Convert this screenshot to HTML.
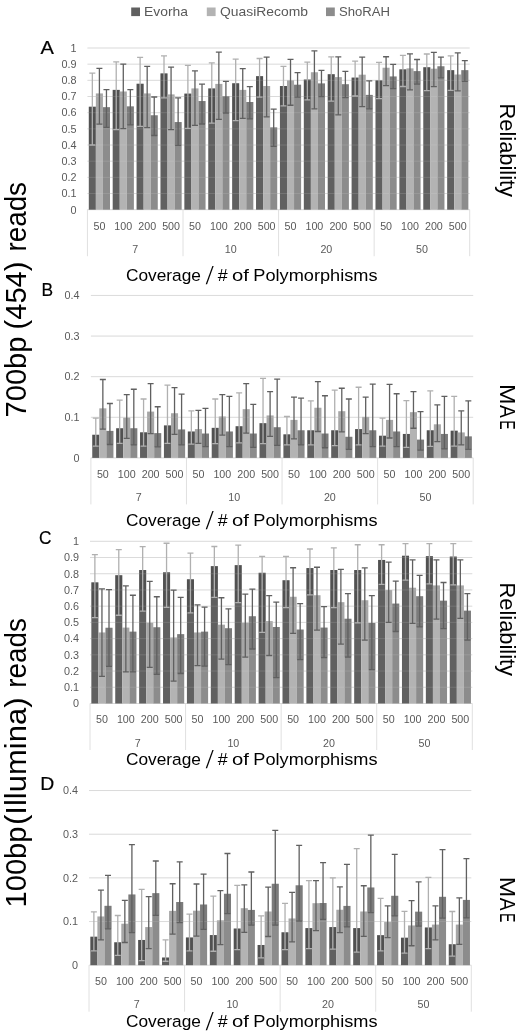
<!DOCTYPE html>
<html><head><meta charset="utf-8"><title>Figure</title>
<style>
html,body{margin:0;padding:0;background:#fff;}
svg{display:block;font-family:"Liberation Sans", sans-serif;}
</style></head><body>
<svg width="520" height="1033" viewBox="0 0 520 1033">
<rect width="520" height="1033" fill="#fff"/>
<line x1="87.45" x2="469.7" y1="209.7" y2="209.7" stroke="#d9d9d9" stroke-width="1"/>
<text x="76.4" y="213.5" text-anchor="end" font-size="10.8" fill="#595959">0</text>
<line x1="87.45" x2="469.7" y1="193.53" y2="193.53" stroke="#d9d9d9" stroke-width="1"/>
<text x="76.4" y="197.33" text-anchor="end" font-size="10.8" fill="#595959">0.1</text>
<line x1="87.45" x2="469.7" y1="177.36" y2="177.36" stroke="#d9d9d9" stroke-width="1"/>
<text x="76.4" y="181.16" text-anchor="end" font-size="10.8" fill="#595959">0.2</text>
<line x1="87.45" x2="469.7" y1="161.19" y2="161.19" stroke="#d9d9d9" stroke-width="1"/>
<text x="76.4" y="164.99" text-anchor="end" font-size="10.8" fill="#595959">0.3</text>
<line x1="87.45" x2="469.7" y1="145.02" y2="145.02" stroke="#d9d9d9" stroke-width="1"/>
<text x="76.4" y="148.82" text-anchor="end" font-size="10.8" fill="#595959">0.4</text>
<line x1="87.45" x2="469.7" y1="128.85" y2="128.85" stroke="#d9d9d9" stroke-width="1"/>
<text x="76.4" y="132.65" text-anchor="end" font-size="10.8" fill="#595959">0.5</text>
<line x1="87.45" x2="469.7" y1="112.68" y2="112.68" stroke="#d9d9d9" stroke-width="1"/>
<text x="76.4" y="116.48" text-anchor="end" font-size="10.8" fill="#595959">0.6</text>
<line x1="87.45" x2="469.7" y1="96.51" y2="96.51" stroke="#d9d9d9" stroke-width="1"/>
<text x="76.4" y="100.31" text-anchor="end" font-size="10.8" fill="#595959">0.7</text>
<line x1="87.45" x2="469.7" y1="80.34" y2="80.34" stroke="#d9d9d9" stroke-width="1"/>
<text x="76.4" y="84.14" text-anchor="end" font-size="10.8" fill="#595959">0.8</text>
<line x1="87.45" x2="469.7" y1="64.17" y2="64.17" stroke="#d9d9d9" stroke-width="1"/>
<text x="76.4" y="67.97" text-anchor="end" font-size="10.8" fill="#595959">0.9</text>
<line x1="87.45" x2="469.7" y1="48" y2="48" stroke="#d9d9d9" stroke-width="1"/>
<text x="76.4" y="51.8" text-anchor="end" font-size="10.8" fill="#595959">1</text>
<rect x="88.8" y="106.7" width="7.06" height="103" fill="#606060"/>
<rect x="88.8" y="106.7" width="7.06" height="38.32" fill="#000" opacity="0.15"/>
<rect x="95.86" y="93.44" width="7.06" height="116.26" fill="#b3b3b3"/>
<rect x="95.86" y="93.44" width="7.06" height="30.72" fill="#000" opacity="0.07"/>
<rect x="102.93" y="107.18" width="7.06" height="102.52" fill="#8c8c8c"/>
<rect x="102.93" y="107.18" width="7.06" height="20.21" fill="#000" opacity="0.12"/>
<rect x="112.69" y="89.88" width="7.06" height="119.82" fill="#606060"/>
<rect x="112.69" y="89.88" width="7.06" height="39.78" fill="#000" opacity="0.15"/>
<rect x="119.75" y="91.5" width="7.06" height="118.2" fill="#b3b3b3"/>
<rect x="119.75" y="91.5" width="7.06" height="37.03" fill="#000" opacity="0.07"/>
<rect x="126.82" y="106.37" width="7.06" height="103.33" fill="#8c8c8c"/>
<rect x="126.82" y="106.37" width="7.06" height="18.6" fill="#000" opacity="0.12"/>
<rect x="136.58" y="83.74" width="7.06" height="125.96" fill="#606060"/>
<rect x="136.58" y="83.74" width="7.06" height="42.69" fill="#000" opacity="0.15"/>
<rect x="143.64" y="93.44" width="7.06" height="116.26" fill="#b3b3b3"/>
<rect x="143.64" y="93.44" width="7.06" height="34.12" fill="#000" opacity="0.07"/>
<rect x="150.71" y="115.27" width="7.06" height="94.43" fill="#8c8c8c"/>
<rect x="150.71" y="115.27" width="7.06" height="20.21" fill="#000" opacity="0.12"/>
<rect x="160.47" y="73.39" width="7.06" height="136.31" fill="#606060"/>
<rect x="160.47" y="73.39" width="7.06" height="24.58" fill="#000" opacity="0.15"/>
<rect x="167.54" y="94.41" width="7.06" height="115.29" fill="#b3b3b3"/>
<rect x="167.54" y="94.41" width="7.06" height="35.25" fill="#000" opacity="0.07"/>
<rect x="174.6" y="122.06" width="7.06" height="87.64" fill="#8c8c8c"/>
<rect x="174.6" y="122.06" width="7.06" height="23.28" fill="#000" opacity="0.12"/>
<rect x="184.36" y="93.6" width="7.06" height="116.1" fill="#606060"/>
<rect x="184.36" y="93.6" width="7.06" height="34.77" fill="#000" opacity="0.15"/>
<rect x="191.43" y="88.42" width="7.06" height="121.27" fill="#b3b3b3"/>
<rect x="191.43" y="88.42" width="7.06" height="36.87" fill="#000" opacity="0.07"/>
<rect x="198.49" y="101.04" width="7.06" height="108.66" fill="#8c8c8c"/>
<rect x="198.49" y="101.04" width="7.06" height="22.96" fill="#000" opacity="0.12"/>
<rect x="208.25" y="88.42" width="7.06" height="121.27" fill="#606060"/>
<rect x="208.25" y="88.42" width="7.06" height="34.6" fill="#000" opacity="0.15"/>
<rect x="215.32" y="83.9" width="7.06" height="125.8" fill="#b3b3b3"/>
<rect x="215.32" y="83.9" width="7.06" height="35.41" fill="#000" opacity="0.07"/>
<rect x="222.38" y="96.19" width="7.06" height="113.51" fill="#8c8c8c"/>
<rect x="222.38" y="96.19" width="7.06" height="16.82" fill="#000" opacity="0.12"/>
<rect x="232.14" y="83.25" width="7.06" height="126.45" fill="#606060"/>
<rect x="232.14" y="83.25" width="7.06" height="37.35" fill="#000" opacity="0.15"/>
<rect x="239.21" y="89.88" width="7.06" height="119.82" fill="#b3b3b3"/>
<rect x="239.21" y="89.88" width="7.06" height="28.46" fill="#000" opacity="0.07"/>
<rect x="246.27" y="102.01" width="7.06" height="107.69" fill="#8c8c8c"/>
<rect x="246.27" y="102.01" width="7.06" height="16.82" fill="#000" opacity="0.12"/>
<rect x="256.03" y="76.14" width="7.06" height="133.56" fill="#606060"/>
<rect x="256.03" y="76.14" width="7.06" height="21.02" fill="#000" opacity="0.15"/>
<rect x="263.1" y="86" width="7.06" height="123.7" fill="#b3b3b3"/>
<rect x="263.1" y="86" width="7.06" height="30.88" fill="#000" opacity="0.07"/>
<rect x="270.16" y="127.39" width="7.06" height="82.31" fill="#8c8c8c"/>
<rect x="270.16" y="127.39" width="7.06" height="18.92" fill="#000" opacity="0.12"/>
<rect x="279.93" y="86" width="7.06" height="123.7" fill="#606060"/>
<rect x="279.93" y="86" width="7.06" height="19.89" fill="#000" opacity="0.15"/>
<rect x="286.99" y="80.34" width="7.06" height="129.36" fill="#b3b3b3"/>
<rect x="286.99" y="80.34" width="7.06" height="24.9" fill="#000" opacity="0.07"/>
<rect x="294.05" y="84.71" width="7.06" height="124.99" fill="#8c8c8c"/>
<rect x="294.05" y="84.71" width="7.06" height="12.45" fill="#000" opacity="0.12"/>
<rect x="303.82" y="79.53" width="7.06" height="130.17" fill="#606060"/>
<rect x="303.82" y="79.53" width="7.06" height="20.37" fill="#000" opacity="0.15"/>
<rect x="310.88" y="72.25" width="7.06" height="137.44" fill="#b3b3b3"/>
<rect x="310.88" y="72.25" width="7.06" height="36.54" fill="#000" opacity="0.07"/>
<rect x="317.94" y="83.41" width="7.06" height="126.29" fill="#8c8c8c"/>
<rect x="317.94" y="83.41" width="7.06" height="13.26" fill="#000" opacity="0.12"/>
<rect x="327.71" y="74.2" width="7.06" height="135.5" fill="#606060"/>
<rect x="327.71" y="74.2" width="7.06" height="26.84" fill="#000" opacity="0.15"/>
<rect x="334.77" y="77.11" width="7.06" height="132.59" fill="#b3b3b3"/>
<rect x="334.77" y="77.11" width="7.06" height="37.84" fill="#000" opacity="0.07"/>
<rect x="341.83" y="84.22" width="7.06" height="125.48" fill="#8c8c8c"/>
<rect x="341.83" y="84.22" width="7.06" height="13.42" fill="#000" opacity="0.12"/>
<rect x="351.6" y="77.59" width="7.06" height="132.11" fill="#606060"/>
<rect x="351.6" y="77.59" width="7.06" height="18.43" fill="#000" opacity="0.15"/>
<rect x="358.66" y="74.68" width="7.06" height="135.02" fill="#b3b3b3"/>
<rect x="358.66" y="74.68" width="7.06" height="32.02" fill="#000" opacity="0.07"/>
<rect x="365.72" y="94.89" width="7.06" height="114.81" fill="#8c8c8c"/>
<rect x="365.72" y="94.89" width="7.06" height="13.91" fill="#000" opacity="0.12"/>
<rect x="375.49" y="80.34" width="7.06" height="129.36" fill="#606060"/>
<rect x="375.49" y="80.34" width="7.06" height="18.27" fill="#000" opacity="0.15"/>
<rect x="382.55" y="67.73" width="7.06" height="141.97" fill="#b3b3b3"/>
<rect x="382.55" y="67.73" width="7.06" height="17.95" fill="#000" opacity="0.07"/>
<rect x="389.61" y="76.46" width="7.06" height="133.24" fill="#8c8c8c"/>
<rect x="389.61" y="76.46" width="7.06" height="12.13" fill="#000" opacity="0.12"/>
<rect x="399.38" y="69.34" width="7.06" height="140.36" fill="#606060"/>
<rect x="399.38" y="69.34" width="7.06" height="17.14" fill="#000" opacity="0.15"/>
<rect x="406.44" y="68.37" width="7.06" height="141.33" fill="#b3b3b3"/>
<rect x="406.44" y="68.37" width="7.06" height="21.51" fill="#000" opacity="0.07"/>
<rect x="413.51" y="71.12" width="7.06" height="138.58" fill="#8c8c8c"/>
<rect x="413.51" y="71.12" width="7.06" height="13.1" fill="#000" opacity="0.12"/>
<rect x="423.27" y="67.24" width="7.06" height="142.46" fill="#606060"/>
<rect x="423.27" y="67.24" width="7.06" height="23.28" fill="#000" opacity="0.15"/>
<rect x="430.33" y="68.7" width="7.06" height="141" fill="#b3b3b3"/>
<rect x="430.33" y="68.7" width="7.06" height="17.95" fill="#000" opacity="0.07"/>
<rect x="437.4" y="66.27" width="7.06" height="143.43" fill="#8c8c8c"/>
<rect x="437.4" y="66.27" width="7.06" height="11.64" fill="#000" opacity="0.12"/>
<rect x="447.16" y="70.15" width="7.06" height="139.55" fill="#606060"/>
<rect x="447.16" y="70.15" width="7.06" height="20.21" fill="#000" opacity="0.15"/>
<rect x="454.22" y="74.52" width="7.06" height="135.18" fill="#b3b3b3"/>
<rect x="454.22" y="74.52" width="7.06" height="16.33" fill="#000" opacity="0.07"/>
<rect x="461.29" y="70.15" width="7.06" height="139.55" fill="#8c8c8c"/>
<rect x="461.29" y="70.15" width="7.06" height="11.16" fill="#000" opacity="0.12"/>
<line x1="87.45" x2="469.7" y1="193.53" y2="193.53" stroke="#e6e6e6" stroke-width="1" opacity="0.14"/>
<line x1="87.45" x2="469.7" y1="177.36" y2="177.36" stroke="#e6e6e6" stroke-width="1" opacity="0.14"/>
<line x1="87.45" x2="469.7" y1="161.19" y2="161.19" stroke="#e6e6e6" stroke-width="1" opacity="0.14"/>
<line x1="87.45" x2="469.7" y1="145.02" y2="145.02" stroke="#e6e6e6" stroke-width="1" opacity="0.14"/>
<line x1="87.45" x2="469.7" y1="128.85" y2="128.85" stroke="#e6e6e6" stroke-width="1" opacity="0.14"/>
<line x1="87.45" x2="469.7" y1="112.68" y2="112.68" stroke="#e6e6e6" stroke-width="1" opacity="0.14"/>
<line x1="87.45" x2="469.7" y1="96.51" y2="96.51" stroke="#e6e6e6" stroke-width="1" opacity="0.14"/>
<line x1="87.45" x2="469.7" y1="80.34" y2="80.34" stroke="#e6e6e6" stroke-width="1" opacity="0.14"/>
<line x1="87.45" x2="469.7" y1="64.17" y2="64.17" stroke="#e6e6e6" stroke-width="1" opacity="0.14"/>
<line x1="87.45" x2="469.7" y1="48" y2="48" stroke="#e6e6e6" stroke-width="1" opacity="0.14"/>
<path d="M92.33 73.06V145.02M89.33 73.06H95.33M89.33 145.02H95.33" stroke="#b0b0b0" stroke-width="1.3" fill="none"/>
<path d="M99.4 68.37V124.16M96.4 68.37H102.4M96.4 124.16H102.4" stroke="#606060" stroke-width="1.3" fill="none"/>
<path d="M106.46 89.56V127.39M103.46 89.56H109.46M103.46 127.39H109.46" stroke="#606060" stroke-width="1.3" fill="none"/>
<path d="M116.22 61.91V129.66M113.22 61.91H119.22M113.22 129.66H119.22" stroke="#b0b0b0" stroke-width="1.3" fill="none"/>
<path d="M123.29 64.17V128.53M120.29 64.17H126.29M120.29 128.53H126.29" stroke="#606060" stroke-width="1.3" fill="none"/>
<path d="M130.35 89.56V124.97M127.35 89.56H133.35M127.35 124.97H133.35" stroke="#606060" stroke-width="1.3" fill="none"/>
<path d="M140.11 57.38V126.42M137.11 57.38H143.11M137.11 126.42H143.11" stroke="#b0b0b0" stroke-width="1.3" fill="none"/>
<path d="M147.18 66.43V127.56M144.18 66.43H150.18M144.18 127.56H150.18" stroke="#606060" stroke-width="1.3" fill="none"/>
<path d="M154.24 97V135.48M151.24 97H157.24M151.24 135.48H157.24" stroke="#606060" stroke-width="1.3" fill="none"/>
<path d="M164 55.92V97.97M161 55.92H167M161 97.97H167" stroke="#b0b0b0" stroke-width="1.3" fill="none"/>
<path d="M171.07 67.08V129.66M168.07 67.08H174.07M168.07 129.66H174.07" stroke="#606060" stroke-width="1.3" fill="none"/>
<path d="M178.13 97.97V145.34M175.13 97.97H181.13M175.13 145.34H181.13" stroke="#606060" stroke-width="1.3" fill="none"/>
<path d="M187.89 65.46V128.36M184.89 65.46H190.89M184.89 128.36H190.89" stroke="#b0b0b0" stroke-width="1.3" fill="none"/>
<path d="M194.96 70.8V125.29M191.96 70.8H197.96M191.96 125.29H197.96" stroke="#606060" stroke-width="1.3" fill="none"/>
<path d="M202.02 84.22V124M199.02 84.22H205.02M199.02 124H205.02" stroke="#606060" stroke-width="1.3" fill="none"/>
<path d="M211.78 62.88V123.03M208.78 62.88H214.78M208.78 123.03H214.78" stroke="#b0b0b0" stroke-width="1.3" fill="none"/>
<path d="M218.85 52.2V119.31M215.85 52.2H221.85M215.85 119.31H221.85" stroke="#606060" stroke-width="1.3" fill="none"/>
<path d="M225.91 81.31V113M222.91 81.31H228.91M222.91 113H228.91" stroke="#606060" stroke-width="1.3" fill="none"/>
<path d="M235.68 59.16V120.6M232.68 59.16H238.68M232.68 120.6H238.68" stroke="#b0b0b0" stroke-width="1.3" fill="none"/>
<path d="M242.74 68.7V118.34M239.74 68.7H245.74M239.74 118.34H245.74" stroke="#606060" stroke-width="1.3" fill="none"/>
<path d="M249.8 86.65V118.82M246.8 86.65H252.8M246.8 118.82H252.8" stroke="#606060" stroke-width="1.3" fill="none"/>
<path d="M259.57 58.51V97.16M256.57 58.51H262.57M256.57 97.16H262.57" stroke="#b0b0b0" stroke-width="1.3" fill="none"/>
<path d="M266.63 57.22V116.88M263.63 57.22H269.63M263.63 116.88H269.63" stroke="#606060" stroke-width="1.3" fill="none"/>
<path d="M273.69 109.12V146.31M270.69 109.12H276.69M270.69 146.31H276.69" stroke="#606060" stroke-width="1.3" fill="none"/>
<path d="M283.46 66.43V105.89M280.46 66.43H286.46M280.46 105.89H286.46" stroke="#b0b0b0" stroke-width="1.3" fill="none"/>
<path d="M290.52 59.32V105.24M287.52 59.32H293.52M287.52 105.24H293.52" stroke="#606060" stroke-width="1.3" fill="none"/>
<path d="M297.58 72.58V97.16M294.58 72.58H300.58M294.58 97.16H300.58" stroke="#606060" stroke-width="1.3" fill="none"/>
<path d="M307.35 62.07V99.91M304.35 62.07H310.35M304.35 99.91H310.35" stroke="#b0b0b0" stroke-width="1.3" fill="none"/>
<path d="M314.41 50.91V108.8M311.41 50.91H317.41M311.41 108.8H317.41" stroke="#606060" stroke-width="1.3" fill="none"/>
<path d="M321.47 70.31V96.67M318.47 70.31H324.47M318.47 96.67H324.47" stroke="#606060" stroke-width="1.3" fill="none"/>
<path d="M331.24 56.89V101.04M328.24 56.89H334.24M328.24 101.04H334.24" stroke="#b0b0b0" stroke-width="1.3" fill="none"/>
<path d="M338.3 56.89V114.94M335.3 56.89H341.3M335.3 114.94H341.3" stroke="#606060" stroke-width="1.3" fill="none"/>
<path d="M345.37 71.28V97.64M342.37 71.28H348.37M342.37 97.64H348.37" stroke="#606060" stroke-width="1.3" fill="none"/>
<path d="M355.13 61.1V96.02M352.13 61.1H358.13M352.13 96.02H358.13" stroke="#b0b0b0" stroke-width="1.3" fill="none"/>
<path d="M362.19 57.22V106.7M359.19 57.22H365.19M359.19 106.7H365.19" stroke="#606060" stroke-width="1.3" fill="none"/>
<path d="M369.26 80.83V108.8M366.26 80.83H372.26M366.26 108.8H372.26" stroke="#606060" stroke-width="1.3" fill="none"/>
<path d="M379.02 62.39V98.61M376.02 62.39H382.02M376.02 98.61H382.02" stroke="#b0b0b0" stroke-width="1.3" fill="none"/>
<path d="M386.08 56.73V85.68M383.08 56.73H389.08M383.08 85.68H389.08" stroke="#606060" stroke-width="1.3" fill="none"/>
<path d="M393.15 64.33V88.59M390.15 64.33H396.15M390.15 88.59H396.15" stroke="#606060" stroke-width="1.3" fill="none"/>
<path d="M402.91 55.28V86.48M399.91 55.28H405.91M399.91 86.48H405.91" stroke="#b0b0b0" stroke-width="1.3" fill="none"/>
<path d="M409.97 53.82V89.88M406.97 53.82H412.97M406.97 89.88H412.97" stroke="#606060" stroke-width="1.3" fill="none"/>
<path d="M417.04 59.48V84.22M414.04 59.48H420.04M414.04 84.22H420.04" stroke="#606060" stroke-width="1.3" fill="none"/>
<path d="M426.8 53.98V90.53M423.8 53.98H429.8M423.8 90.53H429.8" stroke="#b0b0b0" stroke-width="1.3" fill="none"/>
<path d="M433.86 52.37V86.65M430.86 52.37H436.86M430.86 86.65H436.86" stroke="#606060" stroke-width="1.3" fill="none"/>
<path d="M440.93 57.22V77.91M437.93 57.22H443.93M437.93 77.91H443.93" stroke="#606060" stroke-width="1.3" fill="none"/>
<path d="M450.69 55.92V90.37M447.69 55.92H453.69M447.69 90.37H453.69" stroke="#b0b0b0" stroke-width="1.3" fill="none"/>
<path d="M457.75 52.85V90.85M454.75 52.85H460.75M454.75 90.85H460.75" stroke="#606060" stroke-width="1.3" fill="none"/>
<path d="M464.82 60.61V81.31M461.82 60.61H467.82M461.82 81.31H467.82" stroke="#606060" stroke-width="1.3" fill="none"/>
<line x1="87.45" x2="87.45" y1="209.7" y2="256.2" stroke="#dcdcdc" stroke-width="0.9"/>
<line x1="183.01" x2="183.01" y1="209.7" y2="256.2" stroke="#dcdcdc" stroke-width="0.9"/>
<line x1="278.57" x2="278.57" y1="209.7" y2="256.2" stroke="#dcdcdc" stroke-width="0.9"/>
<line x1="374.14" x2="374.14" y1="209.7" y2="256.2" stroke="#dcdcdc" stroke-width="0.9"/>
<line x1="469.7" x2="469.7" y1="209.7" y2="256.2" stroke="#dcdcdc" stroke-width="0.9"/>
<text x="99.4" y="229.5" text-anchor="middle" font-size="10.7" fill="#595959">50</text>
<text x="123.29" y="229.5" text-anchor="middle" font-size="10.7" fill="#595959">100</text>
<text x="147.18" y="229.5" text-anchor="middle" font-size="10.7" fill="#595959">200</text>
<text x="171.07" y="229.5" text-anchor="middle" font-size="10.7" fill="#595959">500</text>
<text x="194.96" y="229.5" text-anchor="middle" font-size="10.7" fill="#595959">50</text>
<text x="218.85" y="229.5" text-anchor="middle" font-size="10.7" fill="#595959">100</text>
<text x="242.74" y="229.5" text-anchor="middle" font-size="10.7" fill="#595959">200</text>
<text x="266.63" y="229.5" text-anchor="middle" font-size="10.7" fill="#595959">500</text>
<text x="290.52" y="229.5" text-anchor="middle" font-size="10.7" fill="#595959">50</text>
<text x="314.41" y="229.5" text-anchor="middle" font-size="10.7" fill="#595959">100</text>
<text x="338.3" y="229.5" text-anchor="middle" font-size="10.7" fill="#595959">200</text>
<text x="362.19" y="229.5" text-anchor="middle" font-size="10.7" fill="#595959">500</text>
<text x="386.08" y="229.5" text-anchor="middle" font-size="10.7" fill="#595959">50</text>
<text x="409.97" y="229.5" text-anchor="middle" font-size="10.7" fill="#595959">100</text>
<text x="433.86" y="229.5" text-anchor="middle" font-size="10.7" fill="#595959">200</text>
<text x="457.75" y="229.5" text-anchor="middle" font-size="10.7" fill="#595959">500</text>
<text x="135.23" y="252.7" text-anchor="middle" font-size="10.7" fill="#595959">7</text>
<text x="230.79" y="252.7" text-anchor="middle" font-size="10.7" fill="#595959">10</text>
<text x="326.36" y="252.7" text-anchor="middle" font-size="10.7" fill="#595959">20</text>
<text x="421.92" y="252.7" text-anchor="middle" font-size="10.7" fill="#595959">50</text>
<line x1="90.9" x2="473.2" y1="457.9" y2="457.9" stroke="#d9d9d9" stroke-width="1"/>
<text x="79.5" y="461.7" text-anchor="end" font-size="10.8" fill="#595959">0</text>
<line x1="90.9" x2="473.2" y1="417.29" y2="417.29" stroke="#d9d9d9" stroke-width="1"/>
<text x="79.5" y="421.09" text-anchor="end" font-size="10.8" fill="#595959">0.1</text>
<line x1="90.9" x2="473.2" y1="376.67" y2="376.67" stroke="#d9d9d9" stroke-width="1"/>
<text x="79.5" y="380.47" text-anchor="end" font-size="10.8" fill="#595959">0.2</text>
<line x1="90.9" x2="473.2" y1="336.06" y2="336.06" stroke="#d9d9d9" stroke-width="1"/>
<text x="79.5" y="339.86" text-anchor="end" font-size="10.8" fill="#595959">0.3</text>
<line x1="90.9" x2="473.2" y1="295.45" y2="295.45" stroke="#d9d9d9" stroke-width="1"/>
<text x="79.5" y="299.25" text-anchor="end" font-size="10.8" fill="#595959">0.4</text>
<rect x="92.25" y="434.75" width="7.06" height="23.15" fill="#606060"/>
<rect x="92.25" y="434.75" width="7.06" height="11.37" fill="#000" opacity="0.15"/>
<rect x="99.31" y="408.35" width="7.06" height="49.55" fill="#b3b3b3"/>
<rect x="99.31" y="408.35" width="7.06" height="20.71" fill="#000" opacity="0.07"/>
<rect x="106.38" y="430.89" width="7.06" height="27.01" fill="#8c8c8c"/>
<rect x="106.38" y="430.89" width="7.06" height="13.61" fill="#000" opacity="0.12"/>
<rect x="116.14" y="428.25" width="7.06" height="29.65" fill="#606060"/>
<rect x="116.14" y="428.25" width="7.06" height="15.03" fill="#000" opacity="0.15"/>
<rect x="123.21" y="417.69" width="7.06" height="40.21" fill="#b3b3b3"/>
<rect x="123.21" y="417.69" width="7.06" height="20.71" fill="#000" opacity="0.07"/>
<rect x="130.27" y="428.25" width="7.06" height="29.65" fill="#8c8c8c"/>
<rect x="130.27" y="428.25" width="7.06" height="16.65" fill="#000" opacity="0.12"/>
<rect x="140.04" y="432.31" width="7.06" height="25.59" fill="#606060"/>
<rect x="140.04" y="432.31" width="7.06" height="13.81" fill="#000" opacity="0.15"/>
<rect x="147.1" y="411.6" width="7.06" height="46.3" fill="#b3b3b3"/>
<rect x="147.1" y="411.6" width="7.06" height="21.93" fill="#000" opacity="0.07"/>
<rect x="154.17" y="433.13" width="7.06" height="24.77" fill="#8c8c8c"/>
<rect x="154.17" y="433.13" width="7.06" height="13.81" fill="#000" opacity="0.12"/>
<rect x="163.93" y="425.41" width="7.06" height="32.49" fill="#606060"/>
<rect x="163.93" y="425.41" width="7.06" height="17.87" fill="#000" opacity="0.15"/>
<rect x="171" y="413.23" width="7.06" height="44.67" fill="#b3b3b3"/>
<rect x="171" y="413.23" width="7.06" height="21.12" fill="#000" opacity="0.07"/>
<rect x="178.06" y="429.47" width="7.06" height="28.43" fill="#8c8c8c"/>
<rect x="178.06" y="429.47" width="7.06" height="15.43" fill="#000" opacity="0.12"/>
<rect x="187.82" y="431.5" width="7.06" height="26.4" fill="#606060"/>
<rect x="187.82" y="431.5" width="7.06" height="12.59" fill="#000" opacity="0.15"/>
<rect x="194.89" y="429.07" width="7.06" height="28.83" fill="#b3b3b3"/>
<rect x="194.89" y="429.07" width="7.06" height="14.21" fill="#000" opacity="0.07"/>
<rect x="201.95" y="433.53" width="7.06" height="24.37" fill="#8c8c8c"/>
<rect x="201.95" y="433.53" width="7.06" height="13" fill="#000" opacity="0.12"/>
<rect x="211.72" y="427.85" width="7.06" height="30.05" fill="#606060"/>
<rect x="211.72" y="427.85" width="7.06" height="15.84" fill="#000" opacity="0.15"/>
<rect x="218.78" y="416.48" width="7.06" height="41.42" fill="#b3b3b3"/>
<rect x="218.78" y="416.48" width="7.06" height="18.68" fill="#000" opacity="0.07"/>
<rect x="225.85" y="431.5" width="7.06" height="26.4" fill="#8c8c8c"/>
<rect x="225.85" y="431.5" width="7.06" height="15.03" fill="#000" opacity="0.12"/>
<rect x="235.61" y="426.22" width="7.06" height="31.68" fill="#606060"/>
<rect x="235.61" y="426.22" width="7.06" height="16.65" fill="#000" opacity="0.15"/>
<rect x="242.68" y="409.16" width="7.06" height="48.74" fill="#b3b3b3"/>
<rect x="242.68" y="409.16" width="7.06" height="23.96" fill="#000" opacity="0.07"/>
<rect x="249.74" y="433.53" width="7.06" height="24.37" fill="#8c8c8c"/>
<rect x="249.74" y="433.53" width="7.06" height="13.81" fill="#000" opacity="0.12"/>
<rect x="259.51" y="423.18" width="7.06" height="34.72" fill="#606060"/>
<rect x="259.51" y="423.18" width="7.06" height="20.51" fill="#000" opacity="0.15"/>
<rect x="266.57" y="415.46" width="7.06" height="42.44" fill="#b3b3b3"/>
<rect x="266.57" y="415.46" width="7.06" height="20.92" fill="#000" opacity="0.07"/>
<rect x="273.64" y="427.24" width="7.06" height="30.66" fill="#8c8c8c"/>
<rect x="273.64" y="427.24" width="7.06" height="18.07" fill="#000" opacity="0.12"/>
<rect x="283.4" y="434.34" width="7.06" height="23.56" fill="#606060"/>
<rect x="283.4" y="434.34" width="7.06" height="10.56" fill="#000" opacity="0.15"/>
<rect x="290.46" y="419.89" width="7.06" height="38.01" fill="#b3b3b3"/>
<rect x="290.46" y="419.89" width="7.06" height="18.93" fill="#000" opacity="0.07"/>
<rect x="297.53" y="430.28" width="7.06" height="27.62" fill="#8c8c8c"/>
<rect x="297.53" y="430.28" width="7.06" height="14.62" fill="#000" opacity="0.12"/>
<rect x="307.29" y="430.28" width="7.06" height="27.62" fill="#606060"/>
<rect x="307.29" y="430.28" width="7.06" height="14.62" fill="#000" opacity="0.15"/>
<rect x="314.36" y="407.74" width="7.06" height="50.16" fill="#b3b3b3"/>
<rect x="314.36" y="407.74" width="7.06" height="23.76" fill="#000" opacity="0.07"/>
<rect x="321.42" y="433.53" width="7.06" height="24.37" fill="#8c8c8c"/>
<rect x="321.42" y="433.53" width="7.06" height="14.21" fill="#000" opacity="0.12"/>
<rect x="331.19" y="430.28" width="7.06" height="27.62" fill="#606060"/>
<rect x="331.19" y="430.28" width="7.06" height="15.43" fill="#000" opacity="0.15"/>
<rect x="338.25" y="411.2" width="7.06" height="46.7" fill="#b3b3b3"/>
<rect x="338.25" y="411.2" width="7.06" height="20.71" fill="#000" opacity="0.07"/>
<rect x="345.32" y="436.78" width="7.06" height="21.12" fill="#8c8c8c"/>
<rect x="345.32" y="436.78" width="7.06" height="12.59" fill="#000" opacity="0.12"/>
<rect x="355.08" y="429.07" width="7.06" height="28.83" fill="#606060"/>
<rect x="355.08" y="429.07" width="7.06" height="15.84" fill="#000" opacity="0.15"/>
<rect x="362.15" y="416.88" width="7.06" height="41.02" fill="#b3b3b3"/>
<rect x="362.15" y="416.88" width="7.06" height="16.65" fill="#000" opacity="0.07"/>
<rect x="369.21" y="430.28" width="7.06" height="27.62" fill="#8c8c8c"/>
<rect x="369.21" y="430.28" width="7.06" height="16.24" fill="#000" opacity="0.12"/>
<rect x="378.98" y="435.73" width="7.06" height="22.17" fill="#606060"/>
<rect x="378.98" y="435.73" width="7.06" height="10.4" fill="#000" opacity="0.15"/>
<rect x="386.04" y="419.89" width="7.06" height="38.01" fill="#b3b3b3"/>
<rect x="386.04" y="419.89" width="7.06" height="18.11" fill="#000" opacity="0.07"/>
<rect x="393.1" y="431.5" width="7.06" height="26.4" fill="#8c8c8c"/>
<rect x="393.1" y="431.5" width="7.06" height="15.03" fill="#000" opacity="0.12"/>
<rect x="402.87" y="433.94" width="7.06" height="23.96" fill="#606060"/>
<rect x="402.87" y="433.94" width="7.06" height="13.4" fill="#000" opacity="0.15"/>
<rect x="409.93" y="412.17" width="7.06" height="45.73" fill="#b3b3b3"/>
<rect x="409.93" y="412.17" width="7.06" height="16.08" fill="#000" opacity="0.07"/>
<rect x="417" y="439.62" width="7.06" height="18.28" fill="#8c8c8c"/>
<rect x="417" y="439.62" width="7.06" height="10.56" fill="#000" opacity="0.12"/>
<rect x="426.76" y="430.28" width="7.06" height="27.62" fill="#606060"/>
<rect x="426.76" y="430.28" width="7.06" height="16.04" fill="#000" opacity="0.15"/>
<rect x="433.83" y="424.31" width="7.06" height="33.59" fill="#b3b3b3"/>
<rect x="433.83" y="424.31" width="7.06" height="17.34" fill="#000" opacity="0.07"/>
<rect x="440.89" y="433.94" width="7.06" height="23.96" fill="#8c8c8c"/>
<rect x="440.89" y="433.94" width="7.06" height="15.03" fill="#000" opacity="0.12"/>
<rect x="450.66" y="430.69" width="7.06" height="27.21" fill="#606060"/>
<rect x="450.66" y="430.69" width="7.06" height="15.43" fill="#000" opacity="0.15"/>
<rect x="457.72" y="432.44" width="7.06" height="25.46" fill="#b3b3b3"/>
<rect x="457.72" y="432.44" width="7.06" height="12.47" fill="#000" opacity="0.07"/>
<rect x="464.79" y="436.38" width="7.06" height="21.52" fill="#8c8c8c"/>
<rect x="464.79" y="436.38" width="7.06" height="13" fill="#000" opacity="0.12"/>
<line x1="90.9" x2="473.2" y1="417.29" y2="417.29" stroke="#e6e6e6" stroke-width="1" opacity="0.14"/>
<line x1="90.9" x2="473.2" y1="376.67" y2="376.67" stroke="#e6e6e6" stroke-width="1" opacity="0.14"/>
<line x1="90.9" x2="473.2" y1="336.06" y2="336.06" stroke="#e6e6e6" stroke-width="1" opacity="0.14"/>
<line x1="90.9" x2="473.2" y1="295.45" y2="295.45" stroke="#e6e6e6" stroke-width="1" opacity="0.14"/>
<path d="M95.78 418.1V446.12M92.78 418.1H98.78M92.78 446.12H98.78" stroke="#b0b0b0" stroke-width="1.3" fill="none"/>
<path d="M102.85 379.52V429.07M99.85 379.52H105.85M99.85 429.07H105.85" stroke="#606060" stroke-width="1.3" fill="none"/>
<path d="M109.91 403.48V444.5M106.91 403.48H112.91M106.91 444.5H112.91" stroke="#606060" stroke-width="1.3" fill="none"/>
<path d="M119.68 400.03V443.28M116.68 400.03H122.68M116.68 443.28H122.68" stroke="#b0b0b0" stroke-width="1.3" fill="none"/>
<path d="M126.74 394.54V438.41M123.74 394.54H129.74M123.74 438.41H129.74" stroke="#606060" stroke-width="1.3" fill="none"/>
<path d="M133.81 389.26V444.9M130.81 389.26H136.81M130.81 444.9H136.81" stroke="#606060" stroke-width="1.3" fill="none"/>
<path d="M143.57 399.01V446.12M140.57 399.01H146.57M140.57 446.12H146.57" stroke="#b0b0b0" stroke-width="1.3" fill="none"/>
<path d="M150.63 383.58V433.53M147.63 383.58H153.63M147.63 433.53H153.63" stroke="#606060" stroke-width="1.3" fill="none"/>
<path d="M157.7 406.73V446.93M154.7 406.73H160.7M154.7 446.93H160.7" stroke="#606060" stroke-width="1.3" fill="none"/>
<path d="M167.46 385.2V443.28M164.46 385.2H170.46M164.46 443.28H170.46" stroke="#b0b0b0" stroke-width="1.3" fill="none"/>
<path d="M174.53 387.64V434.34M171.53 387.64H177.53M171.53 434.34H177.53" stroke="#606060" stroke-width="1.3" fill="none"/>
<path d="M181.59 394.14V444.9M178.59 394.14H184.59M178.59 444.9H184.59" stroke="#606060" stroke-width="1.3" fill="none"/>
<path d="M191.36 410.79V444.09M188.36 410.79H194.36M188.36 444.09H194.36" stroke="#b0b0b0" stroke-width="1.3" fill="none"/>
<path d="M198.42 410.38V443.28M195.42 410.38H201.42M195.42 443.28H201.42" stroke="#606060" stroke-width="1.3" fill="none"/>
<path d="M205.49 408.35V446.53M202.49 408.35H208.49M202.49 446.53H208.49" stroke="#606060" stroke-width="1.3" fill="none"/>
<path d="M215.25 399.01V443.69M212.25 399.01H218.25M212.25 443.69H218.25" stroke="#b0b0b0" stroke-width="1.3" fill="none"/>
<path d="M222.32 394.54V435.16M219.32 394.54H225.32M219.32 435.16H225.32" stroke="#606060" stroke-width="1.3" fill="none"/>
<path d="M229.38 396.37V446.53M226.38 396.37H232.38M226.38 446.53H232.38" stroke="#606060" stroke-width="1.3" fill="none"/>
<path d="M239.14 392.92V442.87M236.14 392.92H242.14M236.14 442.87H242.14" stroke="#b0b0b0" stroke-width="1.3" fill="none"/>
<path d="M246.21 383.58V433.13M243.21 383.58H249.21M243.21 433.13H249.21" stroke="#606060" stroke-width="1.3" fill="none"/>
<path d="M253.27 404.29V447.34M250.27 404.29H256.27M250.27 447.34H256.27" stroke="#606060" stroke-width="1.3" fill="none"/>
<path d="M263.04 378.3V443.69M260.04 378.3H266.04M260.04 443.69H266.04" stroke="#b0b0b0" stroke-width="1.3" fill="none"/>
<path d="M270.1 391.7V436.38M267.1 391.7H273.1M267.1 436.38H273.1" stroke="#606060" stroke-width="1.3" fill="none"/>
<path d="M277.17 379.11V445.31M274.17 379.11H280.17M274.17 445.31H280.17" stroke="#606060" stroke-width="1.3" fill="none"/>
<path d="M286.93 416.48V444.9M283.93 416.48H289.93M283.93 444.9H289.93" stroke="#b0b0b0" stroke-width="1.3" fill="none"/>
<path d="M294 397.14V438.81M291 397.14H297M291 438.81H297" stroke="#606060" stroke-width="1.3" fill="none"/>
<path d="M301.06 398.2V444.9M298.06 398.2H304.06M298.06 444.9H304.06" stroke="#606060" stroke-width="1.3" fill="none"/>
<path d="M310.83 400.8V444.9M307.83 400.8H313.83M307.83 444.9H313.83" stroke="#b0b0b0" stroke-width="1.3" fill="none"/>
<path d="M317.89 381.71V431.5M314.89 381.71H320.89M314.89 431.5H320.89" stroke="#606060" stroke-width="1.3" fill="none"/>
<path d="M324.96 395.76V447.75M321.96 395.76H327.96M321.96 447.75H327.96" stroke="#606060" stroke-width="1.3" fill="none"/>
<path d="M334.72 390.08V445.72M331.72 390.08H337.72M331.72 445.72H337.72" stroke="#b0b0b0" stroke-width="1.3" fill="none"/>
<path d="M341.78 388.25V431.91M338.78 388.25H344.78M338.78 431.91H344.78" stroke="#606060" stroke-width="1.3" fill="none"/>
<path d="M348.85 399.01V449.37M345.85 399.01H351.85M345.85 449.37H351.85" stroke="#606060" stroke-width="1.3" fill="none"/>
<path d="M358.61 387.23V444.9M355.61 387.23H361.61M355.61 444.9H361.61" stroke="#b0b0b0" stroke-width="1.3" fill="none"/>
<path d="M365.68 397.14V433.53M362.68 397.14H368.68M362.68 433.53H368.68" stroke="#606060" stroke-width="1.3" fill="none"/>
<path d="M372.74 384.19V446.53M369.74 384.19H375.74M369.74 446.53H375.74" stroke="#606060" stroke-width="1.3" fill="none"/>
<path d="M382.51 418.1V446.12M379.51 418.1H385.51M379.51 446.12H385.51" stroke="#b0b0b0" stroke-width="1.3" fill="none"/>
<path d="M389.57 384.39V438M386.57 384.39H392.57M386.57 438H392.57" stroke="#606060" stroke-width="1.3" fill="none"/>
<path d="M396.64 393.73V446.53M393.64 393.73H399.64M393.64 446.53H399.64" stroke="#606060" stroke-width="1.3" fill="none"/>
<path d="M406.4 400.64V447.34M403.4 400.64H409.4M403.4 447.34H409.4" stroke="#b0b0b0" stroke-width="1.3" fill="none"/>
<path d="M413.47 391.7V428.25M410.47 391.7H416.47M410.47 428.25H416.47" stroke="#606060" stroke-width="1.3" fill="none"/>
<path d="M420.53 411.6V450.18M417.53 411.6H423.53M417.53 450.18H423.53" stroke="#606060" stroke-width="1.3" fill="none"/>
<path d="M430.29 390.89V446.33M427.29 390.89H433.29M427.29 446.33H433.29" stroke="#b0b0b0" stroke-width="1.3" fill="none"/>
<path d="M437.36 404.86V441.65M434.36 404.86H440.36M434.36 441.65H440.36" stroke="#606060" stroke-width="1.3" fill="none"/>
<path d="M444.42 396.37V448.97M441.42 396.37H447.42M441.42 448.97H447.42" stroke="#606060" stroke-width="1.3" fill="none"/>
<path d="M454.19 396.37V446.12M451.19 396.37H457.19M451.19 446.12H457.19" stroke="#b0b0b0" stroke-width="1.3" fill="none"/>
<path d="M461.25 410.79V444.9M458.25 410.79H464.25M458.25 444.9H464.25" stroke="#606060" stroke-width="1.3" fill="none"/>
<path d="M468.32 400.8V449.37M465.32 400.8H471.32M465.32 449.37H471.32" stroke="#606060" stroke-width="1.3" fill="none"/>
<line x1="90.9" x2="90.9" y1="457.9" y2="504.4" stroke="#dcdcdc" stroke-width="0.9"/>
<line x1="186.47" x2="186.47" y1="457.9" y2="504.4" stroke="#dcdcdc" stroke-width="0.9"/>
<line x1="282.05" x2="282.05" y1="457.9" y2="504.4" stroke="#dcdcdc" stroke-width="0.9"/>
<line x1="377.62" x2="377.62" y1="457.9" y2="504.4" stroke="#dcdcdc" stroke-width="0.9"/>
<line x1="473.2" x2="473.2" y1="457.9" y2="504.4" stroke="#dcdcdc" stroke-width="0.9"/>
<text x="102.85" y="477.7" text-anchor="middle" font-size="10.7" fill="#595959">50</text>
<text x="126.74" y="477.7" text-anchor="middle" font-size="10.7" fill="#595959">100</text>
<text x="150.63" y="477.7" text-anchor="middle" font-size="10.7" fill="#595959">200</text>
<text x="174.53" y="477.7" text-anchor="middle" font-size="10.7" fill="#595959">500</text>
<text x="198.42" y="477.7" text-anchor="middle" font-size="10.7" fill="#595959">50</text>
<text x="222.32" y="477.7" text-anchor="middle" font-size="10.7" fill="#595959">100</text>
<text x="246.21" y="477.7" text-anchor="middle" font-size="10.7" fill="#595959">200</text>
<text x="270.1" y="477.7" text-anchor="middle" font-size="10.7" fill="#595959">500</text>
<text x="294" y="477.7" text-anchor="middle" font-size="10.7" fill="#595959">50</text>
<text x="317.89" y="477.7" text-anchor="middle" font-size="10.7" fill="#595959">100</text>
<text x="341.78" y="477.7" text-anchor="middle" font-size="10.7" fill="#595959">200</text>
<text x="365.68" y="477.7" text-anchor="middle" font-size="10.7" fill="#595959">500</text>
<text x="389.57" y="477.7" text-anchor="middle" font-size="10.7" fill="#595959">50</text>
<text x="413.47" y="477.7" text-anchor="middle" font-size="10.7" fill="#595959">100</text>
<text x="437.36" y="477.7" text-anchor="middle" font-size="10.7" fill="#595959">200</text>
<text x="461.25" y="477.7" text-anchor="middle" font-size="10.7" fill="#595959">500</text>
<text x="138.69" y="500.9" text-anchor="middle" font-size="10.7" fill="#595959">7</text>
<text x="234.26" y="500.9" text-anchor="middle" font-size="10.7" fill="#595959">10</text>
<text x="329.84" y="500.9" text-anchor="middle" font-size="10.7" fill="#595959">20</text>
<text x="425.41" y="500.9" text-anchor="middle" font-size="10.7" fill="#595959">50</text>
<line x1="90" x2="472.3" y1="703.5" y2="703.5" stroke="#d9d9d9" stroke-width="1"/>
<text x="79" y="707.3" text-anchor="end" font-size="10.8" fill="#595959">0</text>
<line x1="90" x2="472.3" y1="687.28" y2="687.28" stroke="#d9d9d9" stroke-width="1"/>
<text x="79" y="691.08" text-anchor="end" font-size="10.8" fill="#595959">0.1</text>
<line x1="90" x2="472.3" y1="671.06" y2="671.06" stroke="#d9d9d9" stroke-width="1"/>
<text x="79" y="674.86" text-anchor="end" font-size="10.8" fill="#595959">0.2</text>
<line x1="90" x2="472.3" y1="654.84" y2="654.84" stroke="#d9d9d9" stroke-width="1"/>
<text x="79" y="658.64" text-anchor="end" font-size="10.8" fill="#595959">0.3</text>
<line x1="90" x2="472.3" y1="638.62" y2="638.62" stroke="#d9d9d9" stroke-width="1"/>
<text x="79" y="642.42" text-anchor="end" font-size="10.8" fill="#595959">0.4</text>
<line x1="90" x2="472.3" y1="622.4" y2="622.4" stroke="#d9d9d9" stroke-width="1"/>
<text x="79" y="626.2" text-anchor="end" font-size="10.8" fill="#595959">0.5</text>
<line x1="90" x2="472.3" y1="606.18" y2="606.18" stroke="#d9d9d9" stroke-width="1"/>
<text x="79" y="609.98" text-anchor="end" font-size="10.8" fill="#595959">0.6</text>
<line x1="90" x2="472.3" y1="589.96" y2="589.96" stroke="#d9d9d9" stroke-width="1"/>
<text x="79" y="593.76" text-anchor="end" font-size="10.8" fill="#595959">0.7</text>
<line x1="90" x2="472.3" y1="573.74" y2="573.74" stroke="#d9d9d9" stroke-width="1"/>
<text x="79" y="577.54" text-anchor="end" font-size="10.8" fill="#595959">0.8</text>
<line x1="90" x2="472.3" y1="557.52" y2="557.52" stroke="#d9d9d9" stroke-width="1"/>
<text x="79" y="561.32" text-anchor="end" font-size="10.8" fill="#595959">0.9</text>
<line x1="90" x2="472.3" y1="541.3" y2="541.3" stroke="#d9d9d9" stroke-width="1"/>
<text x="79" y="545.1" text-anchor="end" font-size="10.8" fill="#595959">1</text>
<rect x="91.35" y="582.34" width="7.06" height="121.16" fill="#606060"/>
<rect x="91.35" y="582.34" width="7.06" height="35.2" fill="#000" opacity="0.15"/>
<rect x="98.41" y="632.46" width="7.06" height="71.04" fill="#b3b3b3"/>
<rect x="98.41" y="632.46" width="7.06" height="43.88" fill="#000" opacity="0.07"/>
<rect x="105.48" y="627.75" width="7.06" height="75.75" fill="#8c8c8c"/>
<rect x="105.48" y="627.75" width="7.06" height="38.6" fill="#000" opacity="0.12"/>
<rect x="115.24" y="575.2" width="7.06" height="128.3" fill="#606060"/>
<rect x="115.24" y="575.2" width="7.06" height="40.06" fill="#000" opacity="0.15"/>
<rect x="122.31" y="627.59" width="7.06" height="75.91" fill="#b3b3b3"/>
<rect x="122.31" y="627.59" width="7.06" height="44.28" fill="#000" opacity="0.07"/>
<rect x="129.37" y="631.65" width="7.06" height="71.85" fill="#8c8c8c"/>
<rect x="129.37" y="631.65" width="7.06" height="40.23" fill="#000" opacity="0.12"/>
<rect x="139.14" y="570.01" width="7.06" height="133.49" fill="#606060"/>
<rect x="139.14" y="570.01" width="7.06" height="41.2" fill="#000" opacity="0.15"/>
<rect x="146.2" y="622.79" width="7.06" height="80.71" fill="#b3b3b3"/>
<rect x="146.2" y="622.79" width="7.06" height="44.54" fill="#000" opacity="0.07"/>
<rect x="153.27" y="627.27" width="7.06" height="76.23" fill="#8c8c8c"/>
<rect x="153.27" y="627.27" width="7.06" height="47.2" fill="#000" opacity="0.12"/>
<rect x="163.03" y="572.28" width="7.06" height="131.22" fill="#606060"/>
<rect x="163.03" y="572.28" width="7.06" height="35.1" fill="#000" opacity="0.15"/>
<rect x="170.1" y="637.48" width="7.06" height="66.02" fill="#b3b3b3"/>
<rect x="170.1" y="637.48" width="7.06" height="43.63" fill="#000" opacity="0.07"/>
<rect x="177.16" y="634.14" width="7.06" height="69.36" fill="#8c8c8c"/>
<rect x="177.16" y="634.14" width="7.06" height="39.35" fill="#000" opacity="0.12"/>
<rect x="186.92" y="579.25" width="7.06" height="124.25" fill="#606060"/>
<rect x="186.92" y="579.25" width="7.06" height="33.58" fill="#000" opacity="0.15"/>
<rect x="193.99" y="632.46" width="7.06" height="71.04" fill="#b3b3b3"/>
<rect x="193.99" y="632.46" width="7.06" height="33.25" fill="#000" opacity="0.07"/>
<rect x="201.05" y="631.65" width="7.06" height="71.85" fill="#8c8c8c"/>
<rect x="201.05" y="631.65" width="7.06" height="34.55" fill="#000" opacity="0.12"/>
<rect x="210.82" y="566.12" width="7.06" height="137.38" fill="#606060"/>
<rect x="210.82" y="566.12" width="7.06" height="31.3" fill="#000" opacity="0.15"/>
<rect x="217.88" y="624.67" width="7.06" height="78.83" fill="#b3b3b3"/>
<rect x="217.88" y="624.67" width="7.06" height="34.39" fill="#000" opacity="0.07"/>
<rect x="224.95" y="628.24" width="7.06" height="75.26" fill="#8c8c8c"/>
<rect x="224.95" y="628.24" width="7.06" height="36.33" fill="#000" opacity="0.12"/>
<rect x="234.71" y="565.14" width="7.06" height="138.36" fill="#606060"/>
<rect x="234.71" y="565.14" width="7.06" height="37.47" fill="#000" opacity="0.15"/>
<rect x="241.78" y="622.79" width="7.06" height="80.71" fill="#b3b3b3"/>
<rect x="241.78" y="622.79" width="7.06" height="34.32" fill="#000" opacity="0.07"/>
<rect x="248.84" y="616.24" width="7.06" height="87.26" fill="#8c8c8c"/>
<rect x="248.84" y="616.24" width="7.06" height="32.76" fill="#000" opacity="0.12"/>
<rect x="258.61" y="572.77" width="7.06" height="130.73" fill="#606060"/>
<rect x="258.61" y="572.77" width="7.06" height="59.69" fill="#000" opacity="0.15"/>
<rect x="265.67" y="621.1" width="7.06" height="82.4" fill="#b3b3b3"/>
<rect x="265.67" y="621.1" width="7.06" height="34.39" fill="#000" opacity="0.07"/>
<rect x="272.74" y="627.02" width="7.06" height="76.48" fill="#8c8c8c"/>
<rect x="272.74" y="627.02" width="7.06" height="50.69" fill="#000" opacity="0.12"/>
<rect x="282.5" y="580.23" width="7.06" height="123.27" fill="#606060"/>
<rect x="282.5" y="580.23" width="7.06" height="27.41" fill="#000" opacity="0.15"/>
<rect x="289.56" y="596.77" width="7.06" height="106.73" fill="#b3b3b3"/>
<rect x="289.56" y="596.77" width="7.06" height="36.66" fill="#000" opacity="0.07"/>
<rect x="296.63" y="629.54" width="7.06" height="73.96" fill="#8c8c8c"/>
<rect x="296.63" y="629.54" width="7.06" height="30.01" fill="#000" opacity="0.12"/>
<rect x="306.39" y="568.06" width="7.06" height="135.44" fill="#606060"/>
<rect x="306.39" y="568.06" width="7.06" height="26.76" fill="#000" opacity="0.15"/>
<rect x="313.46" y="595.23" width="7.06" height="108.27" fill="#b3b3b3"/>
<rect x="313.46" y="595.23" width="7.06" height="34.87" fill="#000" opacity="0.07"/>
<rect x="320.52" y="627.59" width="7.06" height="75.91" fill="#8c8c8c"/>
<rect x="320.52" y="627.59" width="7.06" height="30.01" fill="#000" opacity="0.12"/>
<rect x="330.29" y="570.01" width="7.06" height="133.49" fill="#606060"/>
<rect x="330.29" y="570.01" width="7.06" height="37.63" fill="#000" opacity="0.15"/>
<rect x="337.35" y="602.17" width="7.06" height="101.33" fill="#b3b3b3"/>
<rect x="337.35" y="602.17" width="7.06" height="41.96" fill="#000" opacity="0.07"/>
<rect x="344.42" y="618.73" width="7.06" height="84.77" fill="#8c8c8c"/>
<rect x="344.42" y="618.73" width="7.06" height="38.38" fill="#000" opacity="0.12"/>
<rect x="354.18" y="570.01" width="7.06" height="133.49" fill="#606060"/>
<rect x="354.18" y="570.01" width="7.06" height="52.78" fill="#000" opacity="0.15"/>
<rect x="361.25" y="600.24" width="7.06" height="103.26" fill="#b3b3b3"/>
<rect x="361.25" y="600.24" width="7.06" height="39.84" fill="#000" opacity="0.07"/>
<rect x="368.31" y="622.98" width="7.06" height="80.52" fill="#8c8c8c"/>
<rect x="368.31" y="622.98" width="7.06" height="46.62" fill="#000" opacity="0.12"/>
<rect x="378.08" y="559.95" width="7.06" height="143.55" fill="#606060"/>
<rect x="378.08" y="559.95" width="7.06" height="24.33" fill="#000" opacity="0.15"/>
<rect x="385.14" y="590.04" width="7.06" height="113.46" fill="#b3b3b3"/>
<rect x="385.14" y="590.04" width="7.06" height="32.36" fill="#000" opacity="0.07"/>
<rect x="392.2" y="603.58" width="7.06" height="99.92" fill="#8c8c8c"/>
<rect x="392.2" y="603.58" width="7.06" height="27.9" fill="#000" opacity="0.12"/>
<rect x="401.97" y="555.74" width="7.06" height="147.76" fill="#606060"/>
<rect x="401.97" y="555.74" width="7.06" height="24.33" fill="#000" opacity="0.15"/>
<rect x="409.03" y="587.72" width="7.06" height="115.78" fill="#b3b3b3"/>
<rect x="409.03" y="587.72" width="7.06" height="35.65" fill="#000" opacity="0.07"/>
<rect x="416.1" y="596.2" width="7.06" height="107.3" fill="#8c8c8c"/>
<rect x="416.1" y="596.2" width="7.06" height="30.62" fill="#000" opacity="0.12"/>
<rect x="425.86" y="556.13" width="7.06" height="147.37" fill="#606060"/>
<rect x="425.86" y="556.13" width="7.06" height="27.75" fill="#000" opacity="0.15"/>
<rect x="432.93" y="585.42" width="7.06" height="118.08" fill="#b3b3b3"/>
<rect x="432.93" y="585.42" width="7.06" height="33.74" fill="#000" opacity="0.07"/>
<rect x="439.99" y="600.67" width="7.06" height="102.83" fill="#8c8c8c"/>
<rect x="439.99" y="600.67" width="7.06" height="27.9" fill="#000" opacity="0.12"/>
<rect x="449.76" y="556.55" width="7.06" height="146.95" fill="#606060"/>
<rect x="449.76" y="556.55" width="7.06" height="28.29" fill="#000" opacity="0.15"/>
<rect x="456.82" y="585.42" width="7.06" height="118.08" fill="#b3b3b3"/>
<rect x="456.82" y="585.42" width="7.06" height="32.93" fill="#000" opacity="0.07"/>
<rect x="463.89" y="610.66" width="7.06" height="92.84" fill="#8c8c8c"/>
<rect x="463.89" y="610.66" width="7.06" height="29.42" fill="#000" opacity="0.12"/>
<line x1="90" x2="472.3" y1="687.28" y2="687.28" stroke="#e6e6e6" stroke-width="1" opacity="0.14"/>
<line x1="90" x2="472.3" y1="671.06" y2="671.06" stroke="#e6e6e6" stroke-width="1" opacity="0.14"/>
<line x1="90" x2="472.3" y1="654.84" y2="654.84" stroke="#e6e6e6" stroke-width="1" opacity="0.14"/>
<line x1="90" x2="472.3" y1="638.62" y2="638.62" stroke="#e6e6e6" stroke-width="1" opacity="0.14"/>
<line x1="90" x2="472.3" y1="622.4" y2="622.4" stroke="#e6e6e6" stroke-width="1" opacity="0.14"/>
<line x1="90" x2="472.3" y1="606.18" y2="606.18" stroke="#e6e6e6" stroke-width="1" opacity="0.14"/>
<line x1="90" x2="472.3" y1="589.96" y2="589.96" stroke="#e6e6e6" stroke-width="1" opacity="0.14"/>
<line x1="90" x2="472.3" y1="573.74" y2="573.74" stroke="#e6e6e6" stroke-width="1" opacity="0.14"/>
<line x1="90" x2="472.3" y1="557.52" y2="557.52" stroke="#e6e6e6" stroke-width="1" opacity="0.14"/>
<line x1="90" x2="472.3" y1="541.3" y2="541.3" stroke="#e6e6e6" stroke-width="1" opacity="0.14"/>
<path d="M94.88 554.6V617.53M91.88 554.6H97.88M91.88 617.53H97.88" stroke="#b0b0b0" stroke-width="1.3" fill="none"/>
<path d="M101.95 588.89V676.33M98.95 588.89H104.95M98.95 676.33H104.95" stroke="#606060" stroke-width="1.3" fill="none"/>
<path d="M109.01 589.64V666.36M106.01 589.64H112.01M106.01 666.36H112.01" stroke="#606060" stroke-width="1.3" fill="none"/>
<path d="M118.78 549.57V615.26M115.78 549.57H121.78M115.78 615.26H121.78" stroke="#b0b0b0" stroke-width="1.3" fill="none"/>
<path d="M125.84 585.81V671.87M122.84 585.81H128.84M122.84 671.87H128.84" stroke="#606060" stroke-width="1.3" fill="none"/>
<path d="M132.91 595.23V671.87M129.91 595.23H135.91M129.91 671.87H135.91" stroke="#606060" stroke-width="1.3" fill="none"/>
<path d="M142.67 546.65V611.21M139.67 546.65H145.67M139.67 611.21H145.67" stroke="#b0b0b0" stroke-width="1.3" fill="none"/>
<path d="M149.73 581.36V667.33M146.73 581.36H152.73M146.73 667.33H152.73" stroke="#606060" stroke-width="1.3" fill="none"/>
<path d="M156.8 596.77V674.47M153.8 596.77H159.8M153.8 674.47H159.8" stroke="#606060" stroke-width="1.3" fill="none"/>
<path d="M166.56 543.25V607.38M163.56 543.25H169.56M163.56 607.38H169.56" stroke="#b0b0b0" stroke-width="1.3" fill="none"/>
<path d="M173.63 590.04V681.12M170.63 590.04H176.63M170.63 681.12H176.63" stroke="#606060" stroke-width="1.3" fill="none"/>
<path d="M180.69 597.42V673.49M177.69 597.42H183.69M177.69 673.49H183.69" stroke="#606060" stroke-width="1.3" fill="none"/>
<path d="M190.46 553.06V612.83M187.46 553.06H193.46M187.46 612.83H193.46" stroke="#b0b0b0" stroke-width="1.3" fill="none"/>
<path d="M197.52 604.88V665.71M194.52 604.88H200.52M194.52 665.71H200.52" stroke="#606060" stroke-width="1.3" fill="none"/>
<path d="M204.59 607.15V666.19M201.59 607.15H207.59M201.59 666.19H207.59" stroke="#606060" stroke-width="1.3" fill="none"/>
<path d="M214.35 546.49V597.42M211.35 546.49H217.35M211.35 597.42H217.35" stroke="#b0b0b0" stroke-width="1.3" fill="none"/>
<path d="M221.42 597.75V659.06M218.42 597.75H224.42M218.42 659.06H224.42" stroke="#606060" stroke-width="1.3" fill="none"/>
<path d="M228.48 608.78V664.57M225.48 608.78H231.48M225.48 664.57H231.48" stroke="#606060" stroke-width="1.3" fill="none"/>
<path d="M238.24 545.19V602.61M235.24 545.19H241.24M235.24 602.61H241.24" stroke="#b0b0b0" stroke-width="1.3" fill="none"/>
<path d="M245.31 594.08V657.11M242.31 594.08H248.31M242.31 657.11H248.31" stroke="#606060" stroke-width="1.3" fill="none"/>
<path d="M252.37 589.07V649M249.37 589.07H255.37M249.37 649H255.37" stroke="#606060" stroke-width="1.3" fill="none"/>
<path d="M262.14 556.38V632.46M259.14 556.38H265.14M259.14 632.46H265.14" stroke="#b0b0b0" stroke-width="1.3" fill="none"/>
<path d="M269.2 595.64V655.49M266.2 595.64H272.2M266.2 655.49H272.2" stroke="#606060" stroke-width="1.3" fill="none"/>
<path d="M276.27 602.17V677.71M273.27 602.17H279.27M273.27 677.71H279.27" stroke="#606060" stroke-width="1.3" fill="none"/>
<path d="M286.03 556.38V607.64M283.03 556.38H289.03M283.03 607.64H289.03" stroke="#b0b0b0" stroke-width="1.3" fill="none"/>
<path d="M293.1 567.74V633.43M290.1 567.74H296.1M290.1 633.43H296.1" stroke="#606060" stroke-width="1.3" fill="none"/>
<path d="M300.16 603.58V659.54M297.16 603.58H303.16M297.16 659.54H303.16" stroke="#606060" stroke-width="1.3" fill="none"/>
<path d="M309.93 549V594.83M306.93 549H312.93M306.93 594.83H312.93" stroke="#b0b0b0" stroke-width="1.3" fill="none"/>
<path d="M316.99 567.25V630.1M313.99 567.25H319.99M313.99 630.1H319.99" stroke="#606060" stroke-width="1.3" fill="none"/>
<path d="M324.06 606.67V657.6M321.06 606.67H327.06M321.06 657.6H327.06" stroke="#606060" stroke-width="1.3" fill="none"/>
<path d="M333.82 547.85V607.64M330.82 547.85H336.82M330.82 607.64H336.82" stroke="#b0b0b0" stroke-width="1.3" fill="none"/>
<path d="M340.88 569.43V644.13M337.88 569.43H343.88M337.88 644.13H343.88" stroke="#606060" stroke-width="1.3" fill="none"/>
<path d="M347.95 593.69V657.11M344.95 593.69H350.95M344.95 657.11H350.95" stroke="#606060" stroke-width="1.3" fill="none"/>
<path d="M357.71 544.77V622.79M354.71 544.77H360.71M354.71 622.79H360.71" stroke="#b0b0b0" stroke-width="1.3" fill="none"/>
<path d="M364.78 567.9V640.08M361.78 567.9H367.78M361.78 640.08H367.78" stroke="#606060" stroke-width="1.3" fill="none"/>
<path d="M371.84 595.64V669.6M368.84 595.64H374.84M368.84 669.6H374.84" stroke="#606060" stroke-width="1.3" fill="none"/>
<path d="M381.61 544.77V584.28M378.61 544.77H384.61M378.61 584.28H384.61" stroke="#b0b0b0" stroke-width="1.3" fill="none"/>
<path d="M388.67 562.11V622.4M385.67 562.11H391.67M385.67 622.4H391.67" stroke="#606060" stroke-width="1.3" fill="none"/>
<path d="M395.74 581.2V631.48M392.74 581.2H398.74M392.74 631.48H398.74" stroke="#606060" stroke-width="1.3" fill="none"/>
<path d="M405.5 543.62V580.07M402.5 543.62H408.5M402.5 580.07H408.5" stroke="#b0b0b0" stroke-width="1.3" fill="none"/>
<path d="M412.57 559.79V623.37M409.57 559.79H415.57M409.57 623.37H415.57" stroke="#606060" stroke-width="1.3" fill="none"/>
<path d="M419.63 575.36V626.83M416.63 575.36H422.63M416.63 626.83H422.63" stroke="#606060" stroke-width="1.3" fill="none"/>
<path d="M429.39 543.62V583.88M426.39 543.62H432.39M426.39 583.88H432.39" stroke="#b0b0b0" stroke-width="1.3" fill="none"/>
<path d="M436.46 559.79V619.16M433.46 559.79H439.46M433.46 619.16H439.46" stroke="#606060" stroke-width="1.3" fill="none"/>
<path d="M443.52 582.5V628.56M440.52 582.5H446.52M440.52 628.56H446.52" stroke="#606060" stroke-width="1.3" fill="none"/>
<path d="M453.29 543.62V584.83M450.29 543.62H456.29M450.29 584.83H456.29" stroke="#b0b0b0" stroke-width="1.3" fill="none"/>
<path d="M460.35 559.79V618.35M457.35 559.79H463.35M457.35 618.35H463.35" stroke="#606060" stroke-width="1.3" fill="none"/>
<path d="M467.42 593.69V640.08M464.42 593.69H470.42M464.42 640.08H470.42" stroke="#606060" stroke-width="1.3" fill="none"/>
<line x1="90" x2="90" y1="703.5" y2="750" stroke="#dcdcdc" stroke-width="0.9"/>
<line x1="185.57" x2="185.57" y1="703.5" y2="750" stroke="#dcdcdc" stroke-width="0.9"/>
<line x1="281.15" x2="281.15" y1="703.5" y2="750" stroke="#dcdcdc" stroke-width="0.9"/>
<line x1="376.73" x2="376.73" y1="703.5" y2="750" stroke="#dcdcdc" stroke-width="0.9"/>
<line x1="472.3" x2="472.3" y1="703.5" y2="750" stroke="#dcdcdc" stroke-width="0.9"/>
<text x="101.95" y="723.3" text-anchor="middle" font-size="10.7" fill="#595959">50</text>
<text x="125.84" y="723.3" text-anchor="middle" font-size="10.7" fill="#595959">100</text>
<text x="149.73" y="723.3" text-anchor="middle" font-size="10.7" fill="#595959">200</text>
<text x="173.63" y="723.3" text-anchor="middle" font-size="10.7" fill="#595959">500</text>
<text x="197.52" y="723.3" text-anchor="middle" font-size="10.7" fill="#595959">50</text>
<text x="221.42" y="723.3" text-anchor="middle" font-size="10.7" fill="#595959">100</text>
<text x="245.31" y="723.3" text-anchor="middle" font-size="10.7" fill="#595959">200</text>
<text x="269.2" y="723.3" text-anchor="middle" font-size="10.7" fill="#595959">500</text>
<text x="293.1" y="723.3" text-anchor="middle" font-size="10.7" fill="#595959">50</text>
<text x="316.99" y="723.3" text-anchor="middle" font-size="10.7" fill="#595959">100</text>
<text x="340.88" y="723.3" text-anchor="middle" font-size="10.7" fill="#595959">200</text>
<text x="364.78" y="723.3" text-anchor="middle" font-size="10.7" fill="#595959">500</text>
<text x="388.67" y="723.3" text-anchor="middle" font-size="10.7" fill="#595959">50</text>
<text x="412.57" y="723.3" text-anchor="middle" font-size="10.7" fill="#595959">100</text>
<text x="436.46" y="723.3" text-anchor="middle" font-size="10.7" fill="#595959">200</text>
<text x="460.35" y="723.3" text-anchor="middle" font-size="10.7" fill="#595959">500</text>
<text x="137.79" y="746.5" text-anchor="middle" font-size="10.7" fill="#595959">7</text>
<text x="233.36" y="746.5" text-anchor="middle" font-size="10.7" fill="#595959">10</text>
<text x="328.94" y="746.5" text-anchor="middle" font-size="10.7" fill="#595959">20</text>
<text x="424.51" y="746.5" text-anchor="middle" font-size="10.7" fill="#595959">50</text>
<line x1="89" x2="471.3" y1="965.2" y2="965.2" stroke="#d9d9d9" stroke-width="1"/>
<text x="77.9" y="969" text-anchor="end" font-size="10.8" fill="#595959">0</text>
<line x1="89" x2="471.3" y1="921.54" y2="921.54" stroke="#d9d9d9" stroke-width="1"/>
<text x="77.9" y="925.34" text-anchor="end" font-size="10.8" fill="#595959">0.1</text>
<line x1="89" x2="471.3" y1="877.88" y2="877.88" stroke="#d9d9d9" stroke-width="1"/>
<text x="77.9" y="881.67" text-anchor="end" font-size="10.8" fill="#595959">0.2</text>
<line x1="89" x2="471.3" y1="834.21" y2="834.21" stroke="#d9d9d9" stroke-width="1"/>
<text x="77.9" y="838.01" text-anchor="end" font-size="10.8" fill="#595959">0.3</text>
<line x1="89" x2="471.3" y1="790.55" y2="790.55" stroke="#d9d9d9" stroke-width="1"/>
<text x="77.9" y="794.35" text-anchor="end" font-size="10.8" fill="#595959">0.4</text>
<rect x="90.35" y="936.69" width="7.06" height="28.51" fill="#606060"/>
<rect x="90.35" y="936.69" width="7.06" height="14.28" fill="#000" opacity="0.15"/>
<rect x="97.41" y="916.47" width="7.06" height="48.73" fill="#b3b3b3"/>
<rect x="97.41" y="916.47" width="7.06" height="23.49" fill="#000" opacity="0.07"/>
<rect x="104.48" y="905.82" width="7.06" height="59.38" fill="#8c8c8c"/>
<rect x="104.48" y="905.82" width="7.06" height="23.14" fill="#000" opacity="0.12"/>
<rect x="114.24" y="942.28" width="7.06" height="22.92" fill="#606060"/>
<rect x="114.24" y="942.28" width="7.06" height="13.1" fill="#000" opacity="0.15"/>
<rect x="121.31" y="923.72" width="7.06" height="41.48" fill="#b3b3b3"/>
<rect x="121.31" y="923.72" width="7.06" height="18.77" fill="#000" opacity="0.07"/>
<rect x="128.37" y="894.47" width="7.06" height="70.73" fill="#8c8c8c"/>
<rect x="128.37" y="894.47" width="7.06" height="38.2" fill="#000" opacity="0.12"/>
<rect x="138.14" y="939.96" width="7.06" height="25.24" fill="#606060"/>
<rect x="138.14" y="939.96" width="7.06" height="20.61" fill="#000" opacity="0.15"/>
<rect x="145.2" y="927.08" width="7.06" height="38.12" fill="#b3b3b3"/>
<rect x="145.2" y="927.08" width="7.06" height="21.53" fill="#000" opacity="0.07"/>
<rect x="152.27" y="893.16" width="7.06" height="72.04" fill="#8c8c8c"/>
<rect x="152.27" y="893.16" width="7.06" height="22.27" fill="#000" opacity="0.12"/>
<rect x="162.03" y="957.52" width="7.06" height="7.68" fill="#606060"/>
<rect x="162.03" y="957.52" width="7.06" height="3.75" fill="#000" opacity="0.15"/>
<rect x="169.1" y="910.88" width="7.06" height="54.32" fill="#b3b3b3"/>
<rect x="169.1" y="910.88" width="7.06" height="23.32" fill="#000" opacity="0.07"/>
<rect x="176.16" y="902.02" width="7.06" height="63.18" fill="#8c8c8c"/>
<rect x="176.16" y="902.02" width="7.06" height="20.61" fill="#000" opacity="0.12"/>
<rect x="185.92" y="937.47" width="7.06" height="27.73" fill="#606060"/>
<rect x="185.92" y="937.47" width="7.06" height="13.49" fill="#000" opacity="0.15"/>
<rect x="192.99" y="910.71" width="7.06" height="54.49" fill="#b3b3b3"/>
<rect x="192.99" y="910.71" width="7.06" height="25.41" fill="#000" opacity="0.07"/>
<rect x="200.05" y="904.51" width="7.06" height="60.69" fill="#8c8c8c"/>
<rect x="200.05" y="904.51" width="7.06" height="24.89" fill="#000" opacity="0.12"/>
<rect x="209.82" y="935.07" width="7.06" height="30.13" fill="#606060"/>
<rect x="209.82" y="935.07" width="7.06" height="16.16" fill="#000" opacity="0.15"/>
<rect x="216.88" y="920.31" width="7.06" height="44.89" fill="#b3b3b3"/>
<rect x="216.88" y="920.31" width="7.06" height="24.36" fill="#000" opacity="0.07"/>
<rect x="223.95" y="893.77" width="7.06" height="71.43" fill="#8c8c8c"/>
<rect x="223.95" y="893.77" width="7.06" height="19.91" fill="#000" opacity="0.12"/>
<rect x="233.71" y="928.52" width="7.06" height="36.68" fill="#606060"/>
<rect x="233.71" y="928.52" width="7.06" height="21.09" fill="#000" opacity="0.15"/>
<rect x="240.78" y="908.22" width="7.06" height="56.98" fill="#b3b3b3"/>
<rect x="240.78" y="908.22" width="7.06" height="24.23" fill="#000" opacity="0.07"/>
<rect x="247.84" y="909.92" width="7.06" height="55.28" fill="#8c8c8c"/>
<rect x="247.84" y="909.92" width="7.06" height="15.11" fill="#000" opacity="0.12"/>
<rect x="257.61" y="944.98" width="7.06" height="20.22" fill="#606060"/>
<rect x="257.61" y="944.98" width="7.06" height="12.79" fill="#000" opacity="0.15"/>
<rect x="264.67" y="911.5" width="7.06" height="53.7" fill="#b3b3b3"/>
<rect x="264.67" y="911.5" width="7.06" height="25.02" fill="#000" opacity="0.07"/>
<rect x="271.74" y="883.77" width="7.06" height="81.43" fill="#8c8c8c"/>
<rect x="271.74" y="883.77" width="7.06" height="41.26" fill="#000" opacity="0.12"/>
<rect x="281.5" y="932.28" width="7.06" height="32.92" fill="#606060"/>
<rect x="281.5" y="932.28" width="7.06" height="17.33" fill="#000" opacity="0.15"/>
<rect x="288.56" y="918.48" width="7.06" height="46.72" fill="#b3b3b3"/>
<rect x="288.56" y="918.48" width="7.06" height="23.4" fill="#000" opacity="0.07"/>
<rect x="295.63" y="885.3" width="7.06" height="79.9" fill="#8c8c8c"/>
<rect x="295.63" y="885.3" width="7.06" height="35.8" fill="#000" opacity="0.12"/>
<rect x="305.39" y="928.09" width="7.06" height="37.11" fill="#606060"/>
<rect x="305.39" y="928.09" width="7.06" height="20.52" fill="#000" opacity="0.15"/>
<rect x="312.46" y="903.2" width="7.06" height="62" fill="#b3b3b3"/>
<rect x="312.46" y="903.2" width="7.06" height="27.51" fill="#000" opacity="0.07"/>
<rect x="319.52" y="903.02" width="7.06" height="62.18" fill="#8c8c8c"/>
<rect x="319.52" y="903.02" width="7.06" height="16.33" fill="#000" opacity="0.12"/>
<rect x="329.29" y="927.08" width="7.06" height="38.12" fill="#606060"/>
<rect x="329.29" y="927.08" width="7.06" height="22.14" fill="#000" opacity="0.15"/>
<rect x="336.35" y="909.75" width="7.06" height="55.45" fill="#b3b3b3"/>
<rect x="336.35" y="909.75" width="7.06" height="22.92" fill="#000" opacity="0.07"/>
<rect x="343.42" y="905.91" width="7.06" height="59.29" fill="#8c8c8c"/>
<rect x="343.42" y="905.91" width="7.06" height="20.96" fill="#000" opacity="0.12"/>
<rect x="353.18" y="928.09" width="7.06" height="37.11" fill="#606060"/>
<rect x="353.18" y="928.09" width="7.06" height="24.01" fill="#000" opacity="0.15"/>
<rect x="360.25" y="911.5" width="7.06" height="53.7" fill="#b3b3b3"/>
<rect x="360.25" y="911.5" width="7.06" height="24.89" fill="#000" opacity="0.07"/>
<rect x="367.31" y="887.48" width="7.06" height="77.72" fill="#8c8c8c"/>
<rect x="367.31" y="887.48" width="7.06" height="25.15" fill="#000" opacity="0.12"/>
<rect x="377.08" y="935.16" width="7.06" height="30.04" fill="#606060"/>
<rect x="377.08" y="935.16" width="7.06" height="15.81" fill="#000" opacity="0.15"/>
<rect x="384.14" y="922.06" width="7.06" height="43.14" fill="#b3b3b3"/>
<rect x="384.14" y="922.06" width="7.06" height="15.63" fill="#000" opacity="0.07"/>
<rect x="391.2" y="895.78" width="7.06" height="69.42" fill="#8c8c8c"/>
<rect x="391.2" y="895.78" width="7.06" height="20.08" fill="#000" opacity="0.12"/>
<rect x="400.97" y="937.69" width="7.06" height="27.51" fill="#606060"/>
<rect x="400.97" y="937.69" width="7.06" height="15.37" fill="#000" opacity="0.15"/>
<rect x="408.03" y="925.47" width="7.06" height="39.73" fill="#b3b3b3"/>
<rect x="408.03" y="925.47" width="7.06" height="20.3" fill="#000" opacity="0.07"/>
<rect x="415.1" y="911.67" width="7.06" height="53.53" fill="#8c8c8c"/>
<rect x="415.1" y="911.67" width="7.06" height="14.45" fill="#000" opacity="0.12"/>
<rect x="424.86" y="927.48" width="7.06" height="37.72" fill="#606060"/>
<rect x="424.86" y="927.48" width="7.06" height="21.13" fill="#000" opacity="0.15"/>
<rect x="431.93" y="924.59" width="7.06" height="40.61" fill="#b3b3b3"/>
<rect x="431.93" y="924.59" width="7.06" height="15.37" fill="#000" opacity="0.07"/>
<rect x="438.99" y="896.82" width="7.06" height="68.38" fill="#8c8c8c"/>
<rect x="438.99" y="896.82" width="7.06" height="21.39" fill="#000" opacity="0.12"/>
<rect x="448.76" y="944.24" width="7.06" height="20.96" fill="#606060"/>
<rect x="448.76" y="944.24" width="7.06" height="11.79" fill="#000" opacity="0.15"/>
<rect x="455.82" y="924.59" width="7.06" height="40.61" fill="#b3b3b3"/>
<rect x="455.82" y="924.59" width="7.06" height="19.82" fill="#000" opacity="0.07"/>
<rect x="462.89" y="899.92" width="7.06" height="65.28" fill="#8c8c8c"/>
<rect x="462.89" y="899.92" width="7.06" height="17.9" fill="#000" opacity="0.12"/>
<line x1="89" x2="471.3" y1="921.54" y2="921.54" stroke="#e6e6e6" stroke-width="1" opacity="0.14"/>
<line x1="89" x2="471.3" y1="877.88" y2="877.88" stroke="#e6e6e6" stroke-width="1" opacity="0.14"/>
<line x1="89" x2="471.3" y1="834.21" y2="834.21" stroke="#e6e6e6" stroke-width="1" opacity="0.14"/>
<line x1="89" x2="471.3" y1="790.55" y2="790.55" stroke="#e6e6e6" stroke-width="1" opacity="0.14"/>
<path d="M93.88 911.93V950.97M90.88 911.93H96.88M90.88 950.97H96.88" stroke="#b0b0b0" stroke-width="1.3" fill="none"/>
<path d="M100.95 890.1V939.96M97.95 890.1H103.95M97.95 939.96H103.95" stroke="#606060" stroke-width="1.3" fill="none"/>
<path d="M108.01 875.47V928.96M105.01 875.47H111.01M105.01 928.96H111.01" stroke="#606060" stroke-width="1.3" fill="none"/>
<path d="M117.78 915.51V955.38M114.78 915.51H120.78M114.78 955.38H120.78" stroke="#b0b0b0" stroke-width="1.3" fill="none"/>
<path d="M124.84 900.32V942.5M121.84 900.32H127.84M121.84 942.5H127.84" stroke="#606060" stroke-width="1.3" fill="none"/>
<path d="M131.91 844.69V932.67M128.91 844.69H134.91M128.91 932.67H134.91" stroke="#606060" stroke-width="1.3" fill="none"/>
<path d="M141.67 889.31V960.57M138.67 889.31H144.67M138.67 960.57H144.67" stroke="#b0b0b0" stroke-width="1.3" fill="none"/>
<path d="M148.73 896.65V948.61M145.73 896.65H151.73M145.73 948.61H151.73" stroke="#606060" stroke-width="1.3" fill="none"/>
<path d="M155.8 861.02V915.42M152.8 861.02H158.8M152.8 915.42H158.8" stroke="#606060" stroke-width="1.3" fill="none"/>
<path d="M165.56 939.96V961.27M162.56 939.96H168.56M162.56 961.27H168.56" stroke="#b0b0b0" stroke-width="1.3" fill="none"/>
<path d="M172.63 883.77V934.2M169.63 883.77H175.63M169.63 934.2H175.63" stroke="#606060" stroke-width="1.3" fill="none"/>
<path d="M179.69 861.81V922.63M176.69 861.81H182.69M176.69 922.63H182.69" stroke="#606060" stroke-width="1.3" fill="none"/>
<path d="M189.46 914.11V950.97M186.46 914.11H192.46M186.46 950.97H192.46" stroke="#b0b0b0" stroke-width="1.3" fill="none"/>
<path d="M196.52 883.99V936.12M193.52 883.99H199.52M193.52 936.12H199.52" stroke="#606060" stroke-width="1.3" fill="none"/>
<path d="M203.59 874.12V929.4M200.59 874.12H206.59M200.59 929.4H206.59" stroke="#606060" stroke-width="1.3" fill="none"/>
<path d="M213.35 896.21V951.23M210.35 896.21H216.35M210.35 951.23H216.35" stroke="#b0b0b0" stroke-width="1.3" fill="none"/>
<path d="M220.42 890.54V944.68M217.42 890.54H223.42M217.42 944.68H223.42" stroke="#606060" stroke-width="1.3" fill="none"/>
<path d="M227.48 853.51V913.68M224.48 853.51H230.48M224.48 913.68H230.48" stroke="#606060" stroke-width="1.3" fill="none"/>
<path d="M237.24 885.3V949.61M234.24 885.3H240.24M234.24 949.61H240.24" stroke="#b0b0b0" stroke-width="1.3" fill="none"/>
<path d="M244.31 884.86V932.45M241.31 884.86H247.31M241.31 932.45H247.31" stroke="#606060" stroke-width="1.3" fill="none"/>
<path d="M251.37 871.98V925.03M248.37 871.98H254.37M248.37 925.03H254.37" stroke="#606060" stroke-width="1.3" fill="none"/>
<path d="M261.14 915.86V957.78M258.14 915.86H264.14M258.14 957.78H264.14" stroke="#b0b0b0" stroke-width="1.3" fill="none"/>
<path d="M268.2 887.04V936.51M265.2 887.04H271.2M265.2 936.51H271.2" stroke="#606060" stroke-width="1.3" fill="none"/>
<path d="M275.27 830.41V925.03M272.27 830.41H278.27M272.27 925.03H278.27" stroke="#606060" stroke-width="1.3" fill="none"/>
<path d="M285.03 903.37V949.61M282.03 903.37H288.03M282.03 949.61H288.03" stroke="#b0b0b0" stroke-width="1.3" fill="none"/>
<path d="M292.1 892.41V941.88M289.1 892.41H295.1M289.1 941.88H295.1" stroke="#606060" stroke-width="1.3" fill="none"/>
<path d="M299.16 845.43V921.1M296.16 845.43H302.16M296.16 921.1H302.16" stroke="#606060" stroke-width="1.3" fill="none"/>
<path d="M308.93 880.67V948.61M305.93 880.67H311.93M305.93 948.61H311.93" stroke="#b0b0b0" stroke-width="1.3" fill="none"/>
<path d="M315.99 880.67V930.71M312.99 880.67H318.99M312.99 930.71H318.99" stroke="#606060" stroke-width="1.3" fill="none"/>
<path d="M323.06 862.59V919.35M320.06 862.59H326.06M320.06 919.35H326.06" stroke="#606060" stroke-width="1.3" fill="none"/>
<path d="M332.82 877.88V949.22M329.82 877.88H335.82M329.82 949.22H335.82" stroke="#b0b0b0" stroke-width="1.3" fill="none"/>
<path d="M339.88 886.83V932.67M336.88 886.83H342.88M336.88 932.67H342.88" stroke="#606060" stroke-width="1.3" fill="none"/>
<path d="M346.95 864.34V926.86M343.95 864.34H349.95M343.95 926.86H349.95" stroke="#606060" stroke-width="1.3" fill="none"/>
<path d="M356.71 848.71V952.1M353.71 848.71H359.71M353.71 952.1H359.71" stroke="#b0b0b0" stroke-width="1.3" fill="none"/>
<path d="M363.78 885.73V936.38M360.78 885.73H366.78M360.78 936.38H366.78" stroke="#606060" stroke-width="1.3" fill="none"/>
<path d="M370.84 835.22V912.63M367.84 835.22H373.84M367.84 912.63H373.84" stroke="#606060" stroke-width="1.3" fill="none"/>
<path d="M380.61 898.4V950.97M377.61 898.4H383.61M377.61 950.97H383.61" stroke="#b0b0b0" stroke-width="1.3" fill="none"/>
<path d="M387.67 905.82V937.69M384.67 905.82H390.67M384.67 937.69H390.67" stroke="#606060" stroke-width="1.3" fill="none"/>
<path d="M394.74 854.3V915.86M391.74 854.3H397.74M391.74 915.86H397.74" stroke="#606060" stroke-width="1.3" fill="none"/>
<path d="M404.5 911.28V953.06M401.5 911.28H407.5M401.5 953.06H407.5" stroke="#b0b0b0" stroke-width="1.3" fill="none"/>
<path d="M411.57 900.71V945.77M408.57 900.71H414.57M408.57 945.77H414.57" stroke="#606060" stroke-width="1.3" fill="none"/>
<path d="M418.63 881.8V926.12M415.63 881.8H421.63M415.63 926.12H421.63" stroke="#606060" stroke-width="1.3" fill="none"/>
<path d="M428.39 877.44V948.61M425.39 877.44H431.39M425.39 948.61H431.39" stroke="#b0b0b0" stroke-width="1.3" fill="none"/>
<path d="M435.46 905.82V939.96M432.46 905.82H438.46M432.46 939.96H438.46" stroke="#606060" stroke-width="1.3" fill="none"/>
<path d="M442.52 849.67V918.22M439.52 849.67H445.52M439.52 918.22H445.52" stroke="#606060" stroke-width="1.3" fill="none"/>
<path d="M452.29 911.5V956.03M449.29 911.5H455.29M449.29 956.03H455.29" stroke="#b0b0b0" stroke-width="1.3" fill="none"/>
<path d="M459.35 897.96V944.42M456.35 897.96H462.35M456.35 944.42H462.35" stroke="#606060" stroke-width="1.3" fill="none"/>
<path d="M466.42 858.66V917.83M463.42 858.66H469.42M463.42 917.83H469.42" stroke="#606060" stroke-width="1.3" fill="none"/>
<line x1="89" x2="89" y1="965.2" y2="1011.7" stroke="#dcdcdc" stroke-width="0.9"/>
<line x1="184.57" x2="184.57" y1="965.2" y2="1011.7" stroke="#dcdcdc" stroke-width="0.9"/>
<line x1="280.15" x2="280.15" y1="965.2" y2="1011.7" stroke="#dcdcdc" stroke-width="0.9"/>
<line x1="375.73" x2="375.73" y1="965.2" y2="1011.7" stroke="#dcdcdc" stroke-width="0.9"/>
<line x1="471.3" x2="471.3" y1="965.2" y2="1011.7" stroke="#dcdcdc" stroke-width="0.9"/>
<text x="100.95" y="985" text-anchor="middle" font-size="10.7" fill="#595959">50</text>
<text x="124.84" y="985" text-anchor="middle" font-size="10.7" fill="#595959">100</text>
<text x="148.73" y="985" text-anchor="middle" font-size="10.7" fill="#595959">200</text>
<text x="172.63" y="985" text-anchor="middle" font-size="10.7" fill="#595959">500</text>
<text x="196.52" y="985" text-anchor="middle" font-size="10.7" fill="#595959">50</text>
<text x="220.42" y="985" text-anchor="middle" font-size="10.7" fill="#595959">100</text>
<text x="244.31" y="985" text-anchor="middle" font-size="10.7" fill="#595959">200</text>
<text x="268.2" y="985" text-anchor="middle" font-size="10.7" fill="#595959">500</text>
<text x="292.1" y="985" text-anchor="middle" font-size="10.7" fill="#595959">50</text>
<text x="315.99" y="985" text-anchor="middle" font-size="10.7" fill="#595959">100</text>
<text x="339.88" y="985" text-anchor="middle" font-size="10.7" fill="#595959">200</text>
<text x="363.78" y="985" text-anchor="middle" font-size="10.7" fill="#595959">500</text>
<text x="387.67" y="985" text-anchor="middle" font-size="10.7" fill="#595959">50</text>
<text x="411.57" y="985" text-anchor="middle" font-size="10.7" fill="#595959">100</text>
<text x="435.46" y="985" text-anchor="middle" font-size="10.7" fill="#595959">200</text>
<text x="459.35" y="985" text-anchor="middle" font-size="10.7" fill="#595959">500</text>
<text x="136.79" y="1008.2" text-anchor="middle" font-size="10.7" fill="#595959">7</text>
<text x="232.36" y="1008.2" text-anchor="middle" font-size="10.7" fill="#595959">10</text>
<text x="327.94" y="1008.2" text-anchor="middle" font-size="10.7" fill="#595959">20</text>
<text x="423.51" y="1008.2" text-anchor="middle" font-size="10.7" fill="#595959">50</text>
<rect x="131.2" y="7.5" width="8.8" height="8.6" fill="#606060"/>
<text x="144" y="16.4" font-size="13.2" fill="#595959" textLength="44" lengthAdjust="spacingAndGlyphs">Evorha</text>
<rect x="206.8" y="7.5" width="8.8" height="8.6" fill="#b3b3b3"/>
<text x="220" y="16.4" font-size="13.2" fill="#595959" textLength="88" lengthAdjust="spacingAndGlyphs">QuasiRecomb</text>
<rect x="326" y="7.5" width="8.8" height="8.6" fill="#8c8c8c"/>
<text x="339" y="16.4" font-size="13.2" fill="#595959" textLength="51" lengthAdjust="spacingAndGlyphs">ShoRAH</text>
<text x="40.4" y="53.8" font-size="18.6" fill="#000" stroke="#000" stroke-width="0.2" textLength="13.4" lengthAdjust="spacingAndGlyphs">A</text>
<text x="41.6" y="296.2" font-size="18.6" fill="#000" stroke="#000" stroke-width="0.2" textLength="11.6" lengthAdjust="spacingAndGlyphs">B</text>
<text x="39.0" y="543.6" font-size="18.6" fill="#000" stroke="#000" stroke-width="0.2" textLength="12.4" lengthAdjust="spacingAndGlyphs">C</text>
<text x="40.2" y="789.5" font-size="18.6" fill="#000" stroke="#000" stroke-width="0.2" textLength="14" lengthAdjust="spacingAndGlyphs">D</text>
<text x="125.9" y="280.7" font-size="17.4" fill="#000" textLength="75.0" lengthAdjust="spacingAndGlyphs">Coverage</text>
<text transform="translate(205.8 284.1) skewX(-9.8) scale(1 1.42)" font-size="17.4" fill="#000">/</text>
<text x="217.8" y="280.7" font-size="17.4" fill="#000" textLength="9.9" lengthAdjust="spacingAndGlyphs">#</text>
<text x="232.1" y="280.7" font-size="17.4" fill="#000" textLength="16.9" lengthAdjust="spacingAndGlyphs">of</text>
<text x="253.3" y="280.7" font-size="17.4" fill="#000" textLength="124.2" lengthAdjust="spacingAndGlyphs">Polymorphisms</text>
<text x="125.9" y="525.75" font-size="17.4" fill="#000" textLength="75.0" lengthAdjust="spacingAndGlyphs">Coverage</text>
<text transform="translate(205.8 529.15) skewX(-9.8) scale(1 1.42)" font-size="17.4" fill="#000">/</text>
<text x="217.8" y="525.75" font-size="17.4" fill="#000" textLength="9.9" lengthAdjust="spacingAndGlyphs">#</text>
<text x="232.1" y="525.75" font-size="17.4" fill="#000" textLength="16.9" lengthAdjust="spacingAndGlyphs">of</text>
<text x="253.3" y="525.75" font-size="17.4" fill="#000" textLength="124.2" lengthAdjust="spacingAndGlyphs">Polymorphisms</text>
<text x="125.9" y="765" font-size="17.4" fill="#000" textLength="75.0" lengthAdjust="spacingAndGlyphs">Coverage</text>
<text transform="translate(205.8 768.4) skewX(-9.8) scale(1 1.42)" font-size="17.4" fill="#000">/</text>
<text x="217.8" y="765" font-size="17.4" fill="#000" textLength="9.9" lengthAdjust="spacingAndGlyphs">#</text>
<text x="232.1" y="765" font-size="17.4" fill="#000" textLength="16.9" lengthAdjust="spacingAndGlyphs">of</text>
<text x="253.3" y="765" font-size="17.4" fill="#000" textLength="124.2" lengthAdjust="spacingAndGlyphs">Polymorphisms</text>
<text x="125.9" y="1027" font-size="17.4" fill="#000" textLength="75.0" lengthAdjust="spacingAndGlyphs">Coverage</text>
<text transform="translate(205.8 1030.4) skewX(-9.8) scale(1 1.42)" font-size="17.4" fill="#000">/</text>
<text x="217.8" y="1027" font-size="17.4" fill="#000" textLength="9.9" lengthAdjust="spacingAndGlyphs">#</text>
<text x="232.1" y="1027" font-size="17.4" fill="#000" textLength="16.9" lengthAdjust="spacingAndGlyphs">of</text>
<text x="253.3" y="1027" font-size="17.4" fill="#000" textLength="124.2" lengthAdjust="spacingAndGlyphs">Polymorphisms</text>
<text transform="translate(26.4 417.5) rotate(-90)" font-size="29.0" fill="#000"><tspan x="0" textLength="81" lengthAdjust="spacingAndGlyphs">700bp</tspan> <tspan x="88" textLength="68" lengthAdjust="spacingAndGlyphs">(454)</tspan> <tspan x="166" textLength="69.5" lengthAdjust="spacingAndGlyphs">reads</tspan></text>
<text transform="translate(26.4 907.5) rotate(-90)" font-size="29.0" fill="#000"><tspan x="0" textLength="81" lengthAdjust="spacingAndGlyphs">100bp</tspan> <tspan x="82.5" textLength="127.5" lengthAdjust="spacingAndGlyphs">(Illumina)</tspan> <tspan x="219.8" textLength="69.5" lengthAdjust="spacingAndGlyphs">reads</tspan></text>
<text transform="translate(500 103.5) rotate(90)" font-size="22" fill="#000" textLength="93.5" lengthAdjust="spacingAndGlyphs">Reliability</text>
<text transform="translate(500 582.5) rotate(90)" font-size="22" fill="#000" textLength="93.5" lengthAdjust="spacingAndGlyphs">Reliability</text>
<text transform="translate(500 385.9) rotate(90)" font-size="21.6" fill="#000"><tspan x="-1.83" textLength="20.63" lengthAdjust="spacingAndGlyphs">M</tspan><tspan x="19.23" textLength="12.84" lengthAdjust="spacingAndGlyphs">A</tspan><tspan x="34.3" textLength="9.34" lengthAdjust="spacingAndGlyphs">E</tspan></text>
<text transform="translate(500 878.6) rotate(90)" font-size="21.6" fill="#000"><tspan x="-1.83" textLength="20.63" lengthAdjust="spacingAndGlyphs">M</tspan><tspan x="19.23" textLength="12.84" lengthAdjust="spacingAndGlyphs">A</tspan><tspan x="34.3" textLength="9.34" lengthAdjust="spacingAndGlyphs">E</tspan></text>
</svg>
</body></html>
